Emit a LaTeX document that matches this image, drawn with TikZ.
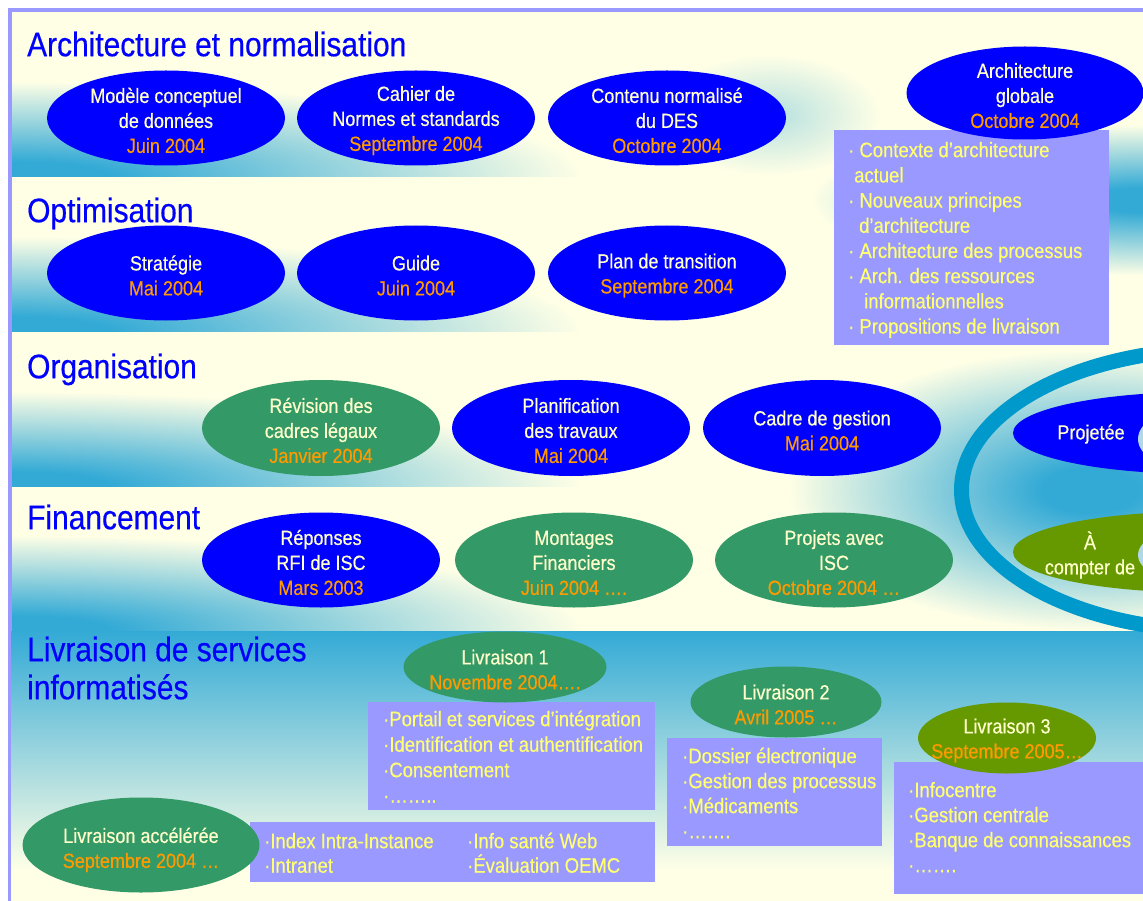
\documentclass[tikz,border=0pt]{standalone}
\usepackage{fontspec}
\setmainfont{Liberation Sans}[FakeStretch=0.88, FakeBold=0.45]
\usetikzlibrary{shapes.geometric,fadings}

\definecolor{cream}{HTML}{FFFFE6}
\definecolor{bandcyan}{HTML}{33AAD6}
\definecolor{framelav}{HTML}{9999FF}
\definecolor{titleblue}{HTML}{0000FF}
\definecolor{ovalblue}{HTML}{0000FF}
\definecolor{ovalgreen}{HTML}{339966}
\definecolor{ovalolive}{HTML}{669900}
\definecolor{panel}{HTML}{9999FF}
\definecolor{labelwhite}{HTML}{FFFFCC}
\definecolor{dateorange}{HTML}{FF9900}
\definecolor{listyellow}{HTML}{FFFF70}
\definecolor{ringblue}{HTML}{0099CC}
\definecolor{paleoval}{HTML}{B0D8E6}

% soft radial mask for the cyan glows (the middle 50bp of the mask fits the path)
\pgfdeclareradialshading{glowmask}{\pgfpointorigin}{color(0bp)=(white); color(4bp)=(white); color(25bp)=(black); color(50bp)=(black)}
\pgfdeclarefading{softglow}{\pgfuseshading{glowmask}}

\newcommand\datetext[1]{\textcolor{dateorange}{#1}}
\newcommand\tstrut{\rule{0pt}{26pt}}
\newcommand\lstrut{\rule{0pt}{16pt}}
\newcommand\ostrut{\rule{0pt}{20pt}}

\begin{document}
\begin{tikzpicture}[x=1pt,y=-1pt,
  oval/.style={ellipse, inner xsep=-30pt, inner ysep=-4pt, align=center,
    text=labelwhite, font=\fontsize{20.5}{25}\selectfont,
    minimum width=238pt, minimum height=95pt},
  blueoval/.style={oval, fill=ovalblue},
  greenoval/.style={oval, fill=ovalgreen},
  oliveoval/.style={oval, fill=ovalolive},
  paleblob/.style={ellipse, fill=paleoval, inner sep=0pt, minimum width=124pt, minimum height=66pt},
  ovallabel/.style={inner sep=0pt, align=center, text=labelwhite, font=\fontsize{20.5}{25}\selectfont},
  bandtitle/.style={anchor=north west, inner sep=0pt, align=left, text=titleblue,
    font=\fontsize{34}{38}\selectfont},
  panelbox/.style={fill=panel},
  listtext/.style={anchor=north west, inner sep=0pt, align=left, text=listyellow,
    font=\fontsize{21}{25.2}\selectfont},
  glow/.style={fill=bandcyan, path fading=softglow},
]
\useasboundingbox (0,0) rectangle (1143,901);
\clip (0,0) rectangle (1143,901);

% ---------- background ----------
\fill[white] (0,0) rectangle (1143,901);
\fill[framelav] (8,8) rectangle (1143,901);

\foreach \top/\bot in {12/177,177/332,332/487,487/631}{
  \fill[cream] (12,\top) rectangle (1143,\bot);
  \begin{scope}
    \clip (12,\top) rectangle (1143,\bot);
    \fill[glow] (20,\bot) ellipse [x radius=560, y radius=95];
  \end{scope}
}
\shade[top color=bandcyan, bottom color=cream] (11,631) rectangle (1143,870);
\fill[cream] (11,870) rectangle (1143,901);

\begin{scope}
  \clip (12,12) rectangle (1143,631);
  \fill[glow] (1143,200) ellipse [x radius=330, y radius=75];
  \fill[glow] (1090,490) ellipse [x radius=300, y radius=140];
  \fill[glow, opacity=.3] (770,115) ellipse [x radius=110, y radius=60];
\end{scope}

% ---------- ring on the right ----------
\draw[ringblue, line width=15pt] (1220,490) ellipse [x radius=258.5, y radius=141];

% ---------- band titles ----------
\node[bandtitle] (tarch) at (27,30) {\tstrut Architecture et normalisation};
\node[bandtitle] (topt) at (27,196) {\tstrut Optimisation};
\node[bandtitle] (torg) at (27,352) {\tstrut Organisation};
\node[bandtitle] (tfin) at (27,503) {\tstrut Financement};
\node[bandtitle] (tliv) at (27,635) {\tstrut Livraison de services\\informatisés};

% ---------- panels ----------
\fill[panelbox] (834,130) rectangle (1109,345);
\fill[panelbox] (368,702) rectangle (655,810);
\fill[panelbox] (250,822) rectangle (655,882);
\fill[panelbox] (667,738) rectangle (882,846);
\fill[panelbox] (894,762) rectangle (1143,894);

% ---------- architecture et normalisation ----------
\node[blueoval] (modele) at (166,118) {\ostrut Modèle conceptuel\\de données\\\datetext{Juin 2004}};
\node[blueoval] (cahier) at (416,118) {\ostrut Cahier de\\Normes et standards\\\datetext{Septembre 2004}};
\node[blueoval] (contenu) at (667,118) {\ostrut Contenu normalisé\\du DES\\\datetext{Octobre 2004}};
\node[blueoval, minimum width=237pt, minimum height=93pt] (archglob) at (1025,93)
  {\ostrut Architecture\\globale\\\datetext{Octobre 2004}};

\node[listtext] (archlist) at (848,141) {\lstrut· Contexte d’architecture\\
  \hspace*{6pt}actuel\\
  · Nouveaux principes\\
  \hspace*{11pt}d’architecture\\
  · Architecture des processus\\
  · Arch. des ressources\\
  \hspace*{16pt}informationnelles\\
  · Propositions de livraison};

% ---------- optimisation ----------
\node[blueoval] (strategie) at (166,273) {\ostrut Stratégie\\\datetext{Mai 2004}};
\node[blueoval] (guide) at (416,273) {\ostrut Guide\\\datetext{Juin 2004}};
\node[blueoval] (plan) at (667,273) {\ostrut Plan de transition\\\datetext{Septembre 2004}};

% ---------- organisation ----------
\node[greenoval, minimum height=96pt] (revision) at (321,428) {\ostrut Révision des\\cadres légaux\\\datetext{Janvier 2004}};
\node[blueoval, minimum height=96pt] (planif) at (571,428) {\ostrut Planification\\des travaux\\\datetext{Mai 2004}};
\node[blueoval, minimum height=96pt] (cadre) at (822,428) {\ostrut Cadre de gestion\\\datetext{Mai 2004}};

% ---------- financement ----------
\node[blueoval] (reponses) at (321,560) {\ostrut Réponses\\RFI de ISC\\\datetext{Mars 2003}};
\node[greenoval] (montages) at (574,560) {\ostrut Montages\\Financiers\\\datetext{Juin 2004 ….}};
\node[greenoval] (projets) at (834,560) {\ostrut Projets avec\\ISC\\\datetext{Octobre 2004 …}};

% ---------- inside the ring ----------
\node[ellipse, fill=ovalblue, inner sep=0pt, minimum width=374pt, minimum height=82pt] (projetee) at (1200,433) {};
\node[ovallabel] (projeteetxt) at (1091,434) {Projetée};
\node[paleblob] (blobA) at (1200,439) {};
\node[ellipse, fill=ovalolive, inner sep=0pt, minimum width=374pt, minimum height=81pt] (acompter) at (1200,552) {};
\node[ovallabel] (acomptertxt) at (1090,555) {À\\compter de};
\node[paleblob, minimum height=58pt] (blobB) at (1200,555) {};

% ---------- livraison de services ----------
\node[greenoval, minimum width=203pt, minimum height=71pt] (liv1) at (505,667) {\ostrut Livraison 1\\\datetext{Novembre 2004….}};
\node[greenoval, minimum width=191pt, minimum height=71pt] (liv2) at (786,702) {\ostrut Livraison 2\\\datetext{Avril 2005 …}};
\node[oliveoval, minimum width=178pt, minimum height=71pt] (liv3) at (1007,738) {\ostrut Livraison 3\\\datetext{Septembre 2005…}};
\node[greenoval, minimum width=237pt] (livacc) at (141,845) {\rule{0pt}{25pt}Livraison accélérée\\\datetext{Septembre 2004 …}};

\node[listtext, font=\fontsize{21}{25.5}\selectfont] (liv1list) at (383,710) {\lstrut·Portail et services d’intégration\\
  ·Identification et authentification\\
  ·Consentement\\
  ·……..};
\node[listtext, font=\fontsize{21}{24.5}\selectfont] (acclistA) at (264,832) {\lstrut·Index Intra-Instance\\·Intranet};
\node[listtext, font=\fontsize{21}{24.5}\selectfont] (acclistB) at (467,832) {\lstrut·Info santé Web\\·Évaluation OEMC};
\node[listtext, font=\fontsize{21}{25}\selectfont] (liv2list) at (682,747) {\lstrut·Dossier électronique\\
  ·Gestion des processus\\
  ·Médicaments\\
  ·…….};
\node[listtext, font=\fontsize{21}{25}\selectfont] (liv3list) at (908,781) {\lstrut·Infocentre\\
  ·Gestion centrale\\
  ·Banque de connaissances\\
  ·…….};
\end{tikzpicture}
\end{document}
